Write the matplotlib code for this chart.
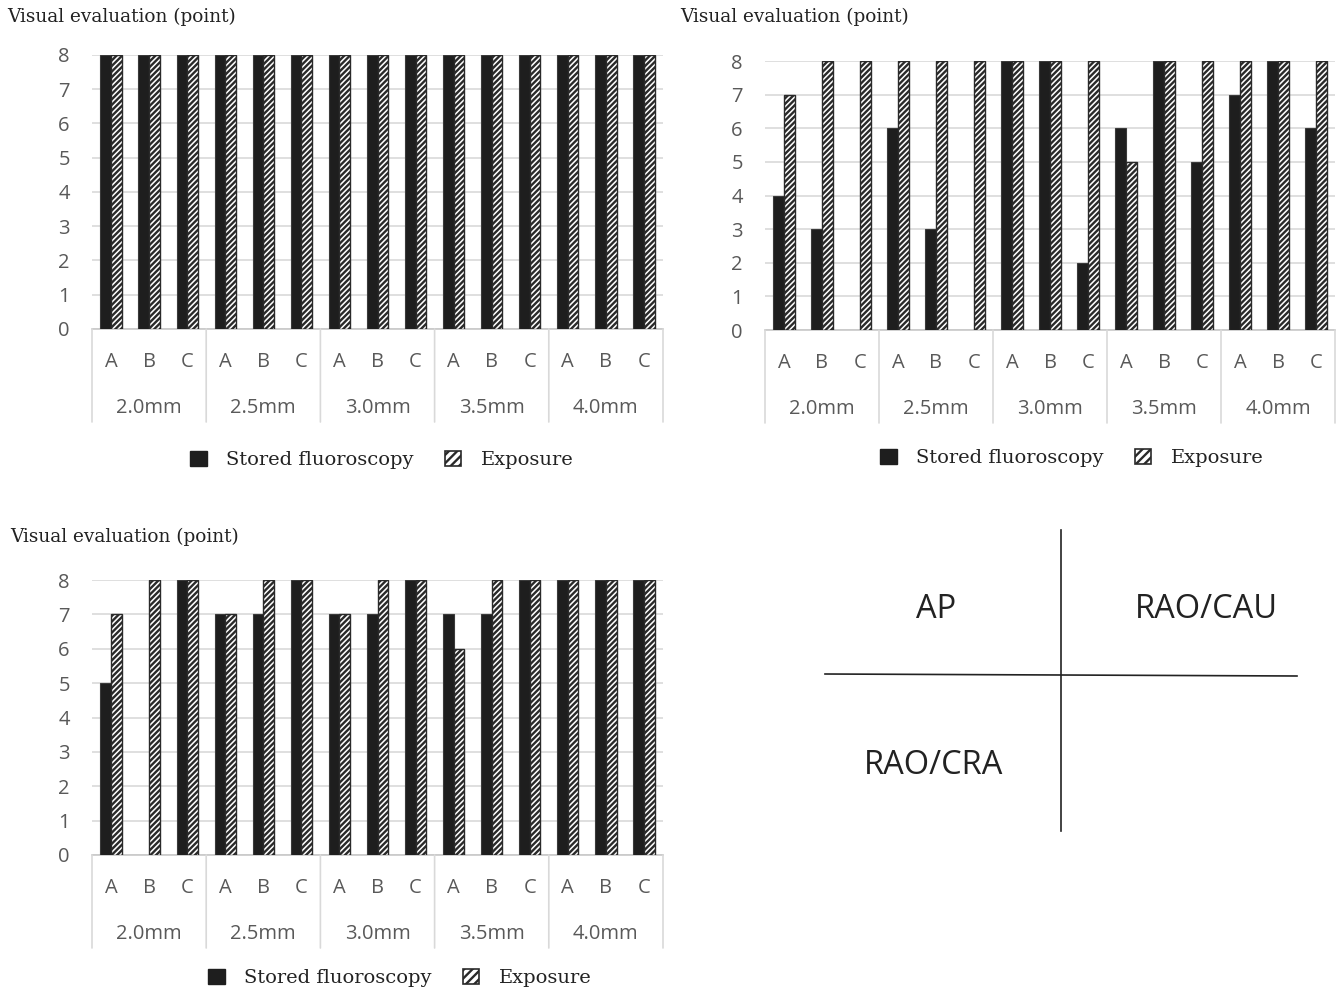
import numpy as np
import matplotlib
matplotlib.use("Agg")
import matplotlib.pyplot as plt
from matplotlib.patches import Patch
from matplotlib.lines import Line2D
from matplotlib.transforms import ScaledTranslation

# visual evaluation scores (points), per lesion size and observer A/B/C
sizes = ["2.0mm", "2.5mm", "3.0mm", "3.5mm", "4.0mm"]
readers = ["A", "B", "C"]

ap_stored = [8, 8, 8, 8, 8, 8, 8, 8, 8, 8, 8, 8, 8, 8, 8]
ap_exposure = [8, 8, 8, 8, 8, 8, 8, 8, 8, 8, 8, 8, 8, 8, 8]

cau_stored = [4, 3, 0, 6, 3, 0, 8, 8, 2, 6, 8, 5, 7, 8, 6]
cau_exposure = [7, 8, 8, 8, 8, 8, 8, 8, 8, 5, 8, 8, 8, 8, 8]

cra_stored = [5, 0, 8, 7, 7, 8, 7, 7, 8, 7, 7, 8, 8, 8, 8]
cra_exposure = [7, 8, 8, 7, 8, 8, 7, 8, 8, 6, 8, 8, 8, 8, 8]

W, H, DPI = 1341, 991, 100
SANS = "Open Sans"
SERIF = "DejaVu Serif"
GRAY = "#595959"

plt.rcParams["hatch.linewidth"] = 1.7
plt.rcParams["hatch.color"] = "#1a1a1a"

fig = plt.figure(figsize=(W / DPI, H / DPI), dpi=DPI)


def px_axes(x0, x1, ytop, ybot):
    return fig.add_axes([x0 / W, 1 - ybot / H, (x1 - x0) / W, (ybot - ytop) / H])


def panel(ax, stored, exposure, legend_xy, title_xy):
    n = len(stored)
    x = np.arange(n)
    bw = 0.28
    b1 = ax.bar(x - bw / 2, stored, bw, color="#1e1e1e", edgecolor="#3a3a3a", lw=0.8, zorder=3)
    b2 = ax.bar(x + bw / 2, exposure, bw, color="white", edgecolor="#2a2a2a", lw=1.0,
                hatch="//////", zorder=3)
    for p in list(b1) + list(b2):
        if p.get_height() == 0:
            p.set_visible(False)

    ax.set_xlim(-0.5, n - 0.5)
    ax.set_ylim(0, 8)
    ax.set_yticks(range(9))
    ax.yaxis.grid(True, color="#d9d9d9", lw=1.2, zorder=0)
    ax.set_axisbelow(True)
    for s in ("top", "right", "left"):
        ax.spines[s].set_visible(False)
    ax.spines["bottom"].set_color("#c8c8c8")
    ax.spines["bottom"].set_linewidth(1.2)
    ax.tick_params(axis="y", length=0, pad=16, labelsize=14.5, labelcolor=GRAY)
    for t in ax.get_yticklabels():
        t.set_fontfamily(SANS)
    ax.set_xticks([])

    # two-level category axis: readers, then lesion size, with group separators
    def off(dy):
        return ax.get_xaxis_transform() + ScaledTranslation(0, -dy / DPI, fig.dpi_scale_trans)

    for i in range(n):
        ax.text(i, 0, readers[i % 3], transform=off(33), ha="center", va="center",
                fontsize=14.5, color=GRAY, family=SANS, clip_on=False)
    for g, lab in enumerate(sizes):
        ax.text(g * 3 + 1, 0, lab, transform=off(79), ha="center", va="center",
                fontsize=14.5, color=GRAY, family=SANS, clip_on=False)
    for g in range(len(sizes) + 1):
        xs = g * 3 - 0.5
        ax.annotate("", xy=(xs, 0), xycoords=ax.get_xaxis_transform(),
                    xytext=(0, -93 * 72 / DPI), textcoords="offset points",
                    arrowprops=dict(arrowstyle="-", color="#d9d9d9", lw=1.2,
                                    shrinkA=0, shrinkB=0))

    fig.text(title_xy[0] / W, 1 - title_xy[1] / H, "Visual evaluation (point)",
             family=SERIF, fontsize=13.3, ha="left", va="center", color="#222222")

    handles = [Patch(facecolor="#1e1e1e", edgecolor="#1e1e1e"),
               Patch(facecolor="white", edgecolor="#2a2a2a", hatch="////", lw=1.2)]
    ax.legend(handles, ["Stored fluoroscopy", "Exposure"], loc="center",
              bbox_to_anchor=(legend_xy[0] / W, 1 - legend_xy[1] / H),
              bbox_transform=fig.transFigure, ncol=2, frameon=False,
              prop=dict(family=SERIF, size=14), handlelength=0.85, handleheight=0.85,
              handletextpad=1.0, columnspacing=1.6, labelcolor="#222222")


ax1 = px_axes(92, 663, 55, 329)
panel(ax1, ap_stored, ap_exposure, (382, 460), (7, 17))

ax2 = px_axes(765, 1335, 61, 330)
panel(ax2, cau_stored, cau_exposure, (1072, 458), (680, 17))

ax3 = px_axes(92, 663, 580, 855)
panel(ax3, cra_stored, cra_exposure, (400, 978), (10, 537))

# orientation key for the three projections
fig.add_artist(Line2D([1061 / W, 1061 / W], [1 - 530 / H, 1 - 831 / H], color="#222222", lw=1.2))
fig.add_artist(Line2D([825 / W, 1297 / W], [1 - 674 / H, 1 - 676 / H], color="#222222", lw=1.2))
for label, (tx, ty) in {"AP": (936, 609), "RAO/CAU": (1206, 609), "RAO/CRA": (934, 766)}.items():
    fig.text(tx / W, 1 - ty / H, label, family=SANS, fontsize=23.5, ha="center", va="center",
             color="#222222")

fig.savefig("out.png", dpi=DPI)
